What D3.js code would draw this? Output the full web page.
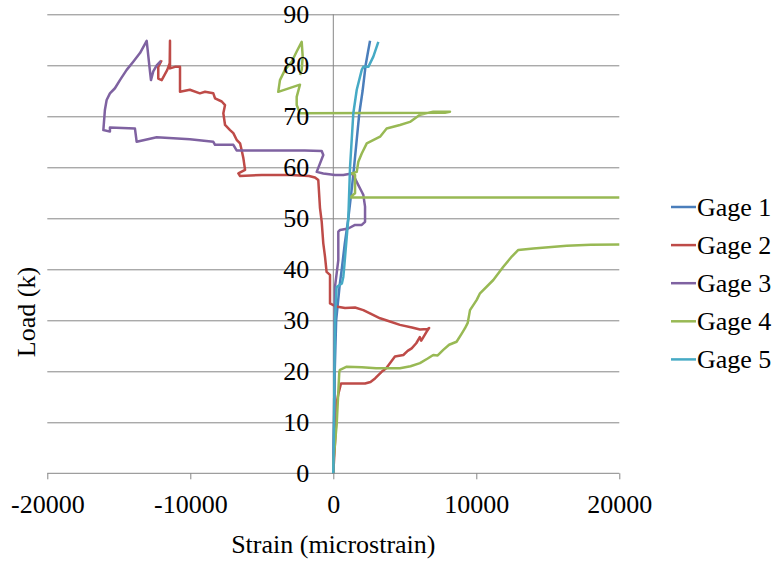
<!DOCTYPE html>
<html>
<head>
<meta charset="utf-8">
<script src="https://cdn.jsdelivr.net/npm/d3@7"></script>
<style>
  body { margin: 0; background: #fff; }
</style>
</head>
<body>
<svg id="chart" width="777" height="561"></svg>
<script>
const seriesNames = ["Gage 1", "Gage 2", "Gage 3", "Gage 4", "Gage 5"];
const seriesColors = ["#4a7ebb", "#be4b48", "#7f62a1", "#98b954", "#46aac5"];
const xTicks = [-20000, -10000, 0, 10000, 20000];
const yTicks = [0, 10, 20, 30, 40, 50, 60, 70, 80, 90];

// [strain (microstrain), load (k)]
const gage1 = [[0,0],[30,5],[60,10],[100,20],[200,30],[450,37],[590,40],[800,45],[1050,50],
  [1300,56],[1450,60],[1820,70.6],[2050,75],[2260,80],[2450,83],[2570,84.8]];

const gage2 = [[0,0],[100,5],[200,10],[250,14],[350,15.5],[540,17.6],[2220,17.6],[2600,17.9],
  [2920,18.6],[3380,19.9],[3700,20.6],[4310,22.9],[4900,23.2],[5200,24],[5480,24.5],[5800,25.5],
  [6050,26.7],[6150,26],[6300,26.7],[6530,27.8],[6700,28.5],[6600,28.3],[6060,28.2],[5500,28.6],
  [4660,29.1],[3800,29.9],[3270,30.4],[2600,31.3],[2100,32],[1520,32.5],[820,32.4],[200,32.7],
  [-230,33.3],[-230,35.3],[-230,38.9],[-470,39.5],[-580,42.5],[-700,45.1],[-810,49.3],[-930,52],
  [-1050,57.5],[-1280,58],[-1700,58.3],[-3000,58.5],[-5000,58.5],[-6520,58.3],[-6640,58.8],
  [-6170,59.5],[-6290,61.8],[-6410,63.4],[-6520,64.7],[-6760,65.4],[-6990,66.7],[-7220,67.3],
  [-7570,68.3],[-7690,70.6],[-7570,72.2],[-7800,72.9],[-8270,73.5],[-8390,74.5],[-8970,74.8],
  [-9330,74.5],[-10030,75.2],[-10720,74.8],[-10720,79.7],[-11070,79.7],[-11420,79.4],[-11420,84.8],
  [-11440,80.4],[-11610,79.1],[-12000,77.1],[-12240,77.4],[-12240,79.7],[-12000,81]];

const gage3 = [[0,0],[50,10],[80,20],[100,30],[120,36.6],[350,41.8],[350,47.4],[470,47.7],
  [1050,48],[1520,48.7],[1990,48.7],[2220,49.3],[2220,52.3],[2100,54.6],[1990,55.2],[1750,56.5],
  [1520,57.8],[1290,58.8],[700,58.5],[120,58.5],[-700,58.8],[-1160,59.1],[-700,62.4],[-810,63.2],
  [-2000,63.3],[-4430,63.3],[-6760,63.3],[-6990,64.4],[-8270,64.4],[-8390,65],[-10030,65.5],
  [-11190,65.7],[-12350,65.9],[-13750,65],[-13870,67.6],[-15620,67.8],[-15620,67],[-16080,67.3],
  [-15970,71.3],[-15850,73.2],[-15620,74.5],[-15270,75.5],[-14920,77.1],[-14450,79.1],
  [-13990,80.7],[-13520,82.4],[-13050,84.8],[-12820,78.8],[-12750,77.1],[-12590,78.8],
  [-12350,80],[-12070,80.8]];

const gage4 = [[0,0],[0,2],[240,9.8],[420,19.9],[470,20.3],[940,20.9],[2000,20.8],[3000,20.6],
  [3960,20.6],[4660,20.6],[5400,21],[6060,21.6],[6600,22.5],[6990,23.2],[7300,23.1],[7690,24.2],
  [8100,25.2],[8620,25.8],[8980,27.4],[9200,28.4],[9400,29.5],[9560,32],[10030,34],[10260,35.3],
  [11190,37.9],[11890,40.5],[12480,42.5],[12940,43.8],[13990,44.1],[16320,44.6],[18000,44.8],
  [21000,44.9],[21000,54.1],[1170,54.1],[1520,54.9],[1520,58.5],[1290,58.8],[1640,59.1],
  [1750,61.1],[1990,62.7],[2340,64.7],[3270,66],[3730,67.6],[4660,68.3],[5360,68.9],[6060,70.3],
  [6990,70.9],[8160,70.9],[7800,70.7],[-2330,70.6],[-2560,72.2],[-2560,73.8],[-2330,76.2],
  [-3850,74.8],[-3730,77.1],[-3380,79.1],[-2910,80.7],[-2560,82.7],[-2210,84.6],[-2140,81.7],
  [-2210,79.1],[-2330,78.1]];

const gage5 = [[0,0],[50,10],[80,20],[120,30],[230,36.5],[600,37.2],[700,38.5],[750,40],
  [1050,50],[1170,60],[1400,70.6],[1640,75.2],[1990,79.1],[2100,79.7],[2450,79.7],[2800,81.7],
  [3150,84.6]];

const allSeries = [gage1, gage2, gage3, gage4, gage5];

const serif = "'Liberation Serif', 'Times New Roman', 'DejaVu Serif', serif";

const svg = d3.select("#chart").attr("font-family", serif);
const plotLeft = 47.3, plotRight = 619.3, plotTop = 14.3, plotBottom = 473.3;

const x = d3.scaleLinear().domain([-20000, 20000]).range([plotLeft, plotRight]);
const y = d3.scaleLinear().domain([0, 90]).range([plotBottom, plotTop]);

svg.append("defs").append("clipPath").attr("id", "plot-clip")
  .append("rect")
  .attr("x", plotLeft).attr("y", plotTop - 2)
  .attr("width", plotRight - plotLeft).attr("height", plotBottom - plotTop + 4);

// gridlines
svg.append("g")
  .attr("transform", "translate(" + plotLeft + ",0)")
  .call(d3.axisLeft(y).tickValues(yTicks.slice(1)).tickSize(-(plotRight - plotLeft)).tickFormat(""))
  .call(g => g.select(".domain").remove())
  .selectAll("line").attr("stroke", "#868686");

// x axis
const xAxis = svg.append("g")
  .attr("transform", "translate(0," + y(0) + ")")
  .call(d3.axisBottom(x).tickValues(xTicks).tickSize(6).tickPadding(15).tickFormat(d => String(d)))
  .attr("font-family", serif)
  .attr("font-size", 26);
xAxis.select(".domain").attr("stroke", "#868686").attr("d", "M" + plotLeft + ",0H" + plotRight);
xAxis.selectAll("line").attr("stroke", "#868686");

// y axis line at strain = 0
svg.append("line")
  .attr("x1", x(0)).attr("x2", x(0))
  .attr("y1", plotTop).attr("y2", plotBottom)
  .attr("stroke", "#868686");

const line = d3.line().x(d => x(d[0])).y(d => y(d[1]));

svg.append("g")
  .attr("clip-path", "url(#plot-clip)")
  .selectAll("path")
  .data(allSeries)
  .join("path")
  .attr("d", line)
  .attr("fill", "none")
  .attr("stroke", (d, i) => seriesColors[i])
  .attr("stroke-width", 2.5)
  .attr("stroke-linejoin", "round");

// y tick labels (drawn over the data)
const yAxis = svg.append("g")
  .attr("transform", "translate(" + x(0) + ",0)")
  .call(d3.axisLeft(y).tickValues(yTicks).tickSize(0).tickPadding(24))
  .attr("font-family", serif)
  .attr("font-size", 26);
yAxis.select(".domain").remove();

// axis titles
svg.append("text")
  .attr("x", x(0)).attr("y", 553)
  .attr("text-anchor", "middle")
  .attr("font-size", 26)
  .text("Strain (microstrain)");

svg.append("text")
  .attr("transform", "translate(35,312) rotate(-90)")
  .attr("text-anchor", "middle")
  .attr("font-size", 26)
  .text("Load (k)");

// legend
const legend = svg.append("g")
  .selectAll("g")
  .data(seriesNames)
  .join("g")
  .attr("transform", (d, i) => "translate(671," + (207 + i * 38.1) + ")");

legend.append("line")
  .attr("x1", 0).attr("x2", 25)
  .attr("stroke", (d, i) => seriesColors[i])
  .attr("stroke-width", 2.5);

legend.append("text")
  .attr("x", 26).attr("y", 9)
  .attr("font-size", 26)
  .text(d => d);
</script>
</body>
</html>
